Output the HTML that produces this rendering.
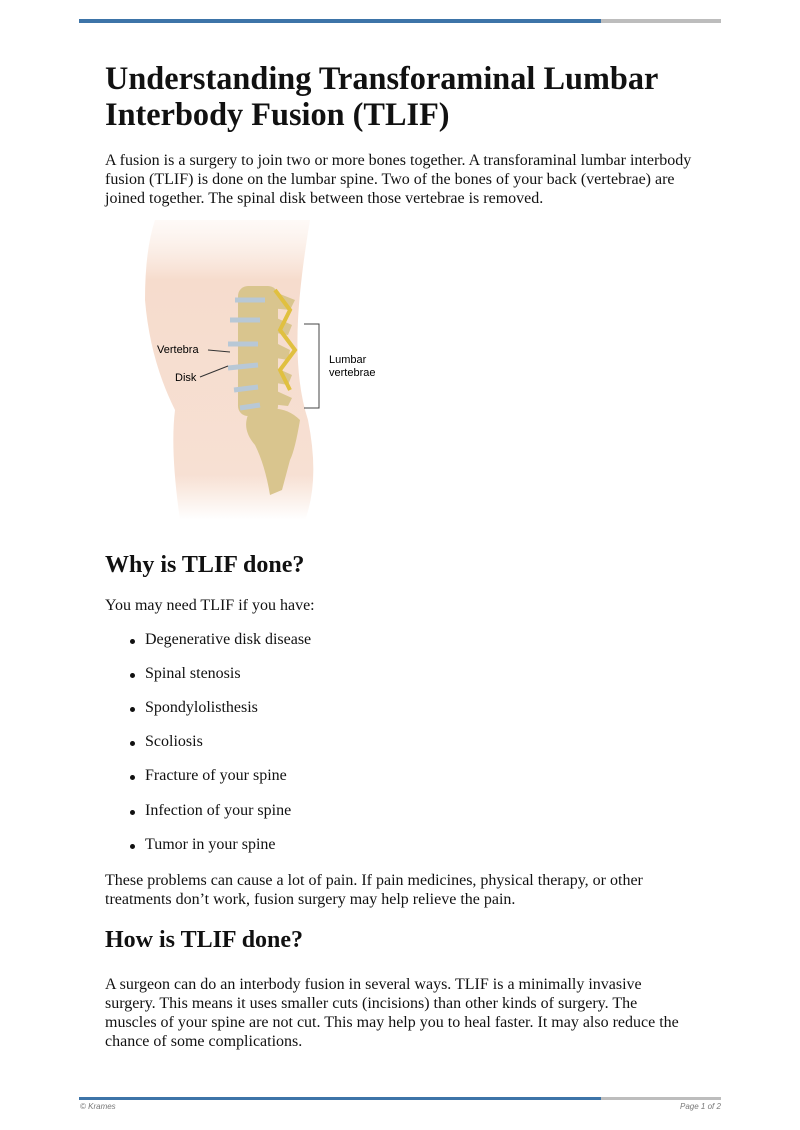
<!DOCTYPE html>
<html><head><meta charset="utf-8"><style>
body{margin:0;background:#fff;width:800px;height:1130px;position:relative;font-family:"Liberation Serif",serif;color:#111;overflow:hidden}
.a{position:absolute;margin:0;white-space:nowrap}
h1{font-size:32.3px;line-height:36px;font-weight:bold}
h2{font-size:24px;line-height:28px;font-weight:bold}
p{font-size:16px;line-height:19px}
.li{position:absolute;left:145px;font-size:16px}
.li:before{content:"";position:absolute;left:-15px;top:8px;width:5px;height:5px;border-radius:50%;background:#111}
</style></head><body>
<div class="a" style="left:79px;top:19px;width:522px;height:4px;background:#3d74a8"></div>
<div class="a" style="left:601px;top:19px;width:120px;height:4px;background:#bdbdbd"></div>
<h1 class="a" style="left:105px;top:60px">Understanding Transforaminal Lumbar<br>Interbody Fusion (TLIF)</h1>
<p class="a" style="left:105px;top:151px">A fusion is a surgery to join two or more bones together. A transforaminal lumbar interbody<br>fusion (TLIF) is done on the lumbar spine. Two of the bones of your back (vertebrae) are<br>joined together. The spinal disk between those vertebrae is removed.</p>
<svg class="a" style="left:130px;top:220px" width="270" height="300" viewBox="0 0 270 300">
<defs><linearGradient id="g" x1="0" y1="0" x2="0" y2="1"><stop offset="0" stop-color="#fbeee6" stop-opacity="0.3"/><stop offset="0.2" stop-color="#f6dccd"/><stop offset="0.85" stop-color="#f7e0d3"/><stop offset="1" stop-color="#fff"/></linearGradient></defs>
<path d="M25 0 L180 0 Q170 60 168 100 Q165 160 178 200 Q190 260 175 300 L50 300 Q40 230 45 190 Q20 140 15 80 Q15 30 25 0Z" fill="url(#g)"/>
<g fill="#d9c58e">
<rect x="108" y="66" width="40" height="130" rx="10"/>
<path d="M118 195 Q150 180 170 200 Q165 230 160 240 L152 270 L140 275 Q135 245 125 225 Q112 210 118 195Z"/>
<path d="M140 70 L165 80 L160 90 L140 88Z M140 95 L162 105 L158 115 L140 112Z M140 120 L160 130 L158 140 L140 137Z M140 145 L162 155 L158 165 L140 162Z M140 168 L162 178 L158 186 L140 184Z"/>
</g>
<g stroke="#b8c8d6" stroke-width="5"><line x1="105" y1="80" x2="135" y2="80"/><line x1="100" y1="100" x2="130" y2="100"/><line x1="98" y1="124" x2="128" y2="124"/><line x1="98" y1="148" x2="128" y2="145"/><line x1="104" y1="170" x2="128" y2="167"/><line x1="110" y1="188" x2="130" y2="185"/></g>
<path d="M145 70 L160 90 L150 110 L165 130 L150 150 L160 170" stroke="#e0c040" stroke-width="4" fill="none"/>
<text x="27" y="133" font-family="Liberation Sans,sans-serif" font-size="11">Vertebra</text>
<text x="45" y="161" font-family="Liberation Sans,sans-serif" font-size="11">Disk</text>
<line x1="78" y1="130" x2="100" y2="132" stroke="#333"/><line x1="70" y1="157" x2="98" y2="146" stroke="#333"/>
<path d="M174 104 H189 V188 H174" stroke="#444" fill="none"/>
<text x="199" y="143" font-family="Liberation Sans,sans-serif" font-size="11">Lumbar</text>
<text x="199" y="156" font-family="Liberation Sans,sans-serif" font-size="11">vertebrae</text>
</svg>
<h2 class="a" style="left:105px;top:551px">Why is TLIF done?</h2>
<p class="a" style="left:105px;top:596px">You may need TLIF if you have:</p>
<div class="li" style="top:631px">Degenerative disk disease</div>
<div class="li" style="top:665px">Spinal stenosis</div>
<div class="li" style="top:699px">Spondylolisthesis</div>
<div class="li" style="top:733px">Scoliosis</div>
<div class="li" style="top:767px">Fracture of your spine</div>
<div class="li" style="top:802px">Infection of your spine</div>
<div class="li" style="top:836px">Tumor in your spine</div>
<p class="a" style="left:105px;top:871px">These problems can cause a lot of pain. If pain medicines, physical therapy, or other<br>treatments don’t work, fusion surgery may help relieve the pain.</p>
<h2 class="a" style="left:105px;top:926px">How is TLIF done?</h2>
<p class="a" style="left:105px;top:975px">A surgeon can do an interbody fusion in several ways. TLIF is a minimally invasive<br>surgery. This means it uses smaller cuts (incisions) than other kinds of surgery. The<br>muscles of your spine are not cut. This may help you to heal faster. It may also reduce the<br>chance of some complications.</p>
<div class="a" style="left:79px;top:1097px;width:522px;height:3px;background:#3d74a8"></div>
<div class="a" style="left:601px;top:1097px;width:120px;height:3px;background:#bdbdbd"></div>
<div class="a" style="left:80px;top:1102px;font:italic 8px 'Liberation Sans',sans-serif;color:#777">© Krames</div>
<div class="a" style="left:680px;top:1102px;font:italic 8px 'Liberation Sans',sans-serif;color:#777">Page 1 of 2</div>
</body></html>
